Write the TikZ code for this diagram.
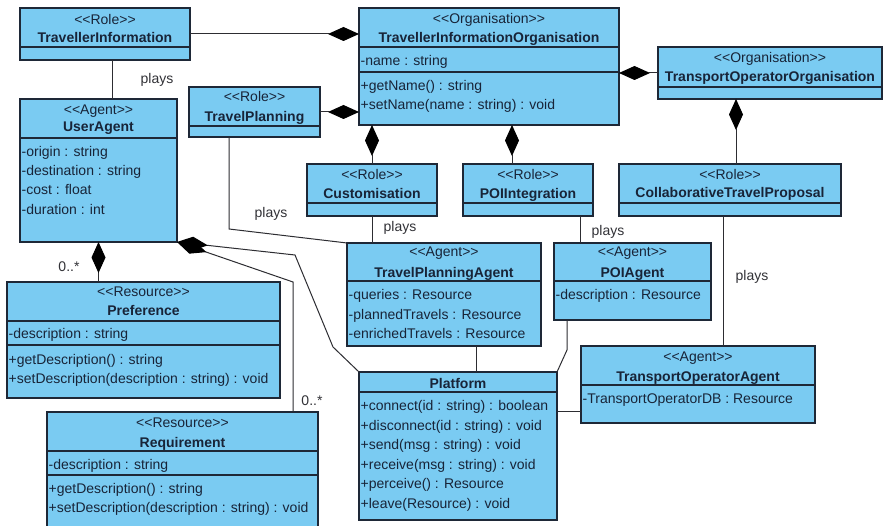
\documentclass[tikz,border=0pt]{standalone}
\usepackage{fontspec}
\setmainfont{Liberation Sans}
\usetikzlibrary{arrows.meta}
\definecolor{boxfill}{RGB}{122,203,242}
\definecolor{boxline}{RGB}{30,40,55}
\definecolor{txtc}{RGB}{24,36,56}
\definecolor{linec}{RGB}{45,45,50}
\definecolor{lblc}{RGB}{50,50,55}
\newcommand\fs{\fontsize{14}{16}\selectfont}
\newcommand\gul{<\kern0pt<}
\newcommand\gur{>\kern0pt>}
\newcommand\umlbox[5]{\node[box, minimum width={(#4-#2)*1pt}, minimum height={(#5-#3)*1pt}] (#1) at ({(#2+#4)/2},{(#3+#5)/2}) {};}
\newcommand\umlsep[2]{\draw[sepline] (#1.west |- 0,#2) -- (#1.east |- 0,#2);}
\tikzset{
  box/.style={draw=boxline, fill=boxfill, line width=1.2pt, inner sep=0pt, outer sep=0pt},
  sepline/.style={draw=boxline, line width=1.2pt},
  ster/.style={font=\fs, text=txtc, inner sep=0pt, anchor=base},
  cname/.style={font=\fs\bfseries, text=txtc, inner sep=0pt, anchor=base},
  attr/.style={font=\fs, text=txtc, inner sep=0pt, anchor=base west},
  lbl/.style={font=\fs, text=lblc, inner sep=0pt, anchor=base},
  conn/.style={draw=linec, line width=1pt},
  comp/.style={conn, {Diamond[length=31pt,width=14pt,color=black]}-}
}
\begin{document}
\begin{tikzpicture}[x=1pt,y=-1pt]
\clip (0,0) rectangle (885,526);
\useasboundingbox (0,0) rectangle (885,526);
\fill[white] (0,0) rectangle (885,526);

% boxes
\umlbox{ti}{20}{8}{190}{60} \umlsep{ti}{47}
\umlbox{ua}{20}{99}{177}{242} \umlsep{ua}{138}
\umlbox{tp}{189}{87}{320}{137} \umlsep{tp}{126}
\umlbox{tio}{359}{8}{619}{125} \umlsep{tio}{47} \umlsep{tio}{72}
\umlbox{too}{658}{47}{882}{99} \umlsep{too}{87}
\umlbox{cus}{307}{164}{437}{216} \umlsep{cus}{203}
\umlbox{poi}{463}{164}{593}{216} \umlsep{poi}{203}
\umlbox{ctp}{619}{164}{841}{216} \umlsep{ctp}{203}
\umlbox{tpa}{347}{243}{541}{346} \umlsep{tpa}{281}
\umlbox{poia}{554}{243}{711}{320} \umlsep{poia}{281}
\umlbox{toa}{581}{346}{815}{423} \umlsep{toa}{385}
\umlbox{plat}{359}{372}{557}{520} \umlsep{plat}{392}
\umlbox{pref}{7}{282}{280}{398} \umlsep{pref}{321} \umlsep{pref}{345}
\umlbox{req}{47}{412}{318}{540} \umlsep{req}{451} \umlsep{req}{475}

% texts
\node[ster] (ti-s) at (105,25) {\gul Role\gur};
\node[cname] (ti-n) at (105,43) {TravellerInformation};

\node[ster] (ua-s) at (98.5,115) {\gul Agent\gur};
\node[cname] (ua-n) at (98.5,132) {UserAgent};
\node[attr] (ua-a1) at (21.5,157) {-origin : string};
\node[attr] (ua-a2) at (21.5,176) {-destination : string};
\node[attr] (ua-a3) at (21.5,195) {-cost : float};
\node[attr] (ua-a4) at (21.5,215) {-duration : int};

\node[ster] (tp-s) at (254.5,102) {\gul Role\gur};
\node[cname] (tp-n) at (254.5,122) {TravelPlanning};

\node[ster] (tio-s) at (489,24) {\gul Organisation\gur};
\node[cname] (tio-n) at (489,43) {TravellerInformationOrganisation};
\node[attr] (tio-a1) at (360.5,66) {-name : string};
\node[attr] (tio-o1) at (360.5,91) {+getName() : string};
\node[attr] (tio-o2) at (360.5,110) {+setName(name : string) : void};

\node[ster] (too-s) at (770,63) {\gul Organisation\gur};
\node[cname] (too-n) at (770,82) {TransportOperatorOrganisation};

\node[ster] (cus-s) at (372,180) {\gul Role\gur};
\node[cname] (cus-n) at (372,199) {Customisation};

\node[ster] (poi-s) at (528,180) {\gul Role\gur};
\node[cname] (poi-n) at (528,199) {POIIntegration};

\node[ster] (ctp-s) at (730,180) {\gul Role\gur};
\node[cname] (ctp-n) at (730,198) {CollaborativeTravelProposal};

\node[ster] (tpa-s) at (444,257) {\gul Agent\gur};
\node[cname] (tpa-n) at (444,277) {TravelPlanningAgent};
\node[attr] (tpa-a1) at (348.5,299) {-queries : Resource};
\node[attr] (tpa-a2) at (348.5,319) {-plannedTravels : Resource};
\node[attr] (tpa-a3) at (348.5,338) {-enrichedTravels : Resource};

\node[ster] (poia-s) at (632.5,257) {\gul Agent\gur};
\node[cname] (poia-n) at (632.5,277) {POIAgent};
\node[attr] (poia-a1) at (555.5,299) {-description : Resource};

\node[ster] (toa-s) at (698,361) {\gul Agent\gur};
\node[cname] (toa-n) at (698,381) {TransportOperatorAgent};
\node[attr] (toa-a1) at (582.5,403) {-TransportOperatorDB : Resource};

\node[cname] (plat-n) at (458,388) {Platform};
\node[attr] (plat-o1) at (360.5,410) {+connect(id : string) : boolean};
\node[attr] (plat-o2) at (360.5,430) {+disconnect(id : string) : void};
\node[attr] (plat-o3) at (360.5,449) {+send(msg : string) : void};
\node[attr] (plat-o4) at (360.5,469) {+receive(msg : string) : void};
\node[attr] (plat-o5) at (360.5,488) {+perceive() : Resource};
\node[attr] (plat-o6) at (360.5,508) {+leave(Resource) : void};

\node[ster] (pref-s) at (143.5,297) {\gul Resource\gur};
\node[cname] (pref-n) at (143.5,316) {Preference};
\node[attr] (pref-a1) at (8.5,338) {-description : string};
\node[attr] (pref-o1) at (8.5,364) {+getDescription() : string};
\node[attr] (pref-o2) at (8.5,383) {+setDescription(description : string) : void};

\node[ster] (req-s) at (182.5,427) {\gul Resource\gur};
\node[cname] (req-n) at (182.5,447) {Requirement};
\node[attr] (req-a1) at (48.5,469) {-description : string};
\node[attr] (req-o1) at (48.5,493) {+getDescription() : string};
\node[attr] (req-o2) at (48.5,512) {+setDescription(description : string) : void};

% connectors
\draw[comp] (ti.east -| tio.west) -- (ti.east);
\draw[comp] (tp.east -| tio.west) -- (tp.east);
\draw[comp] (too.west -| tio.east) -- (too.west);
\draw[comp] (cus.north |- tio.south) -- (cus.north);
\draw[comp] (512,0 |- tio.south) -- (512,0 |- poi.north);
\draw[comp] (736,0 |- too.south) -- (736,0 |- ctp.north);
\draw[comp] (ua.south) -- (ua.south |- pref.north);
\draw[comp] (ua.south east) -- (295,255) -- (333,347) -- (plat.north west);
\draw[comp] (ua.south east) -- (293,282) -- (293,0 |- req.north);
\draw[conn] (112,0 |- ti.south) -- (112,0 |- ua.north);
\draw[conn] (229,0 |- tp.south) -- (229,229) -- (tpa.north west);
\draw[conn] (cus.south) -- (cus.south |- tpa.north);
\draw[conn] (580,0 |- poi.south) -- (580,0 |- poia.north);
\draw[conn] (723,0 |- ctp.south) -- (723,0 |- toa.north);
\draw[conn] (476,0 |- tpa.south) -- (476,0 |- plat.north);
\draw[conn] (567,0 |- poia.south) -- (567,350) -- (plat.north east);
\draw[conn] (plat.east |- 0,411) -- (toa.west |- 0,411);

% labels
\node[lbl] (l1) at (157,84) {plays};
\node[lbl] (l2) at (271,218) {plays};
\node[lbl] (l3) at (400,232) {plays};
\node[lbl] (l4) at (608,236) {plays};
\node[lbl] (l5) at (752,280) {plays};
\node[lbl] (m1) at (69,272) {0..*};
\node[lbl] (m2) at (312,405) {0..*};
\end{tikzpicture}
\end{document}
